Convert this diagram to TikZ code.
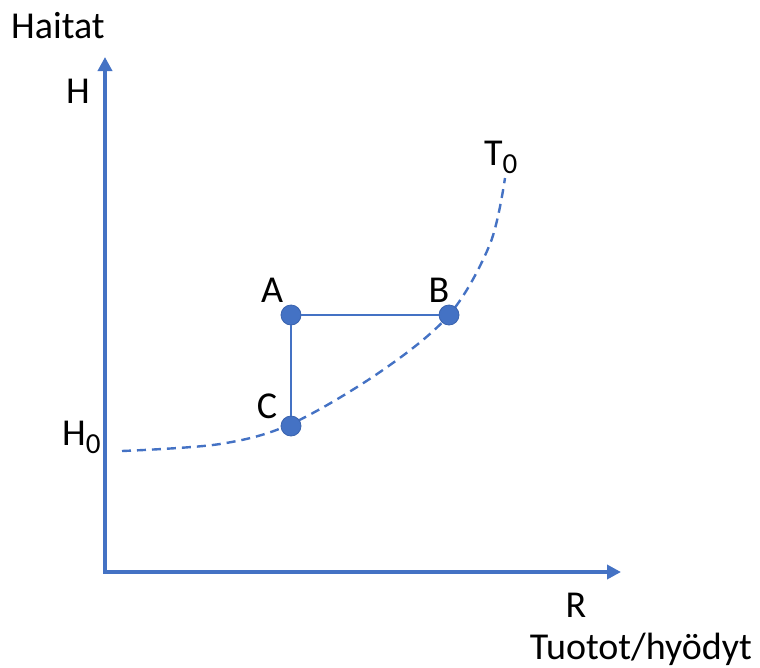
\documentclass[tikz,border=0pt]{standalone}
\usepackage{fontspec}
\setmainfont{Carlito}
\usetikzlibrary{arrows.meta,positioning}
\definecolor{axisblue}{HTML}{4472C4}
\definecolor{dotedge}{HTML}{3A63AE}
\newcommand\lowsub[1]{\raisebox{-8pt}{\fontsize{29}{29}\selectfont#1}}

\begin{document}
\begin{tikzpicture}[x=1pt,y=-1pt,
  lbl/.style={inner sep=0pt,anchor=base,font=\fontsize{38}{44}\selectfont},
  axis/.style={draw=axisblue,line width=4.2pt,line join=miter,{Triangle[length=14pt,width=14pt]}-{Triangle[length=14pt,width=14pt]}},
  link/.style={draw=axisblue,line width=1.8pt},
  curve/.style={draw=axisblue,line width=2.4pt,dash pattern=on 9pt off 6pt},
  dot/.style={circle,fill=axisblue,draw=dotedge,line width=0.8pt,minimum size=20pt,inner sep=0pt}]
\useasboundingbox (0,0) rectangle (760,667);
% axes
\coordinate (Htop) at (105,57);
\coordinate (O) at (105,572);
\coordinate (Rend) at (621,572);
\draw[axis] (Htop) |- (Rend);
% indifference curve T0
\draw[curve] plot[smooth,tension=0.55] coordinates {(122,451) (220,444) (291,424) (380,372) (449,315) (490,244) (505,178)};
% points
\node[dot] (A) at (291,315) {};
\node[dot] (B) at (449,315) {};
\node[dot] (C) at (291,426) {};
\draw[link] (A) -- (B);
\draw[link] (A) -- (C);
% labels
\node[lbl,anchor=base west] (haitat) at (11,38) {Haitat};
\node[lbl] (hlbl) at (78,103) {H};
\node[lbl,anchor=base west] (h0) at (62,445) {H\lowsub{0}};
\node[lbl,anchor=base west] (t0) at (484,165) {T\lowsub{0}};
\node[lbl] (alb) at (272,302) {A};
\node[lbl] (blb) at (439,302) {B};
\node[lbl] (clb) at (267,418) {C};
\node[lbl] (rlbl) at (576,617) {R};
\node[lbl] (tuotot) at (641,659) {Tuotot/hyödyt};
\end{tikzpicture}
\end{document}
